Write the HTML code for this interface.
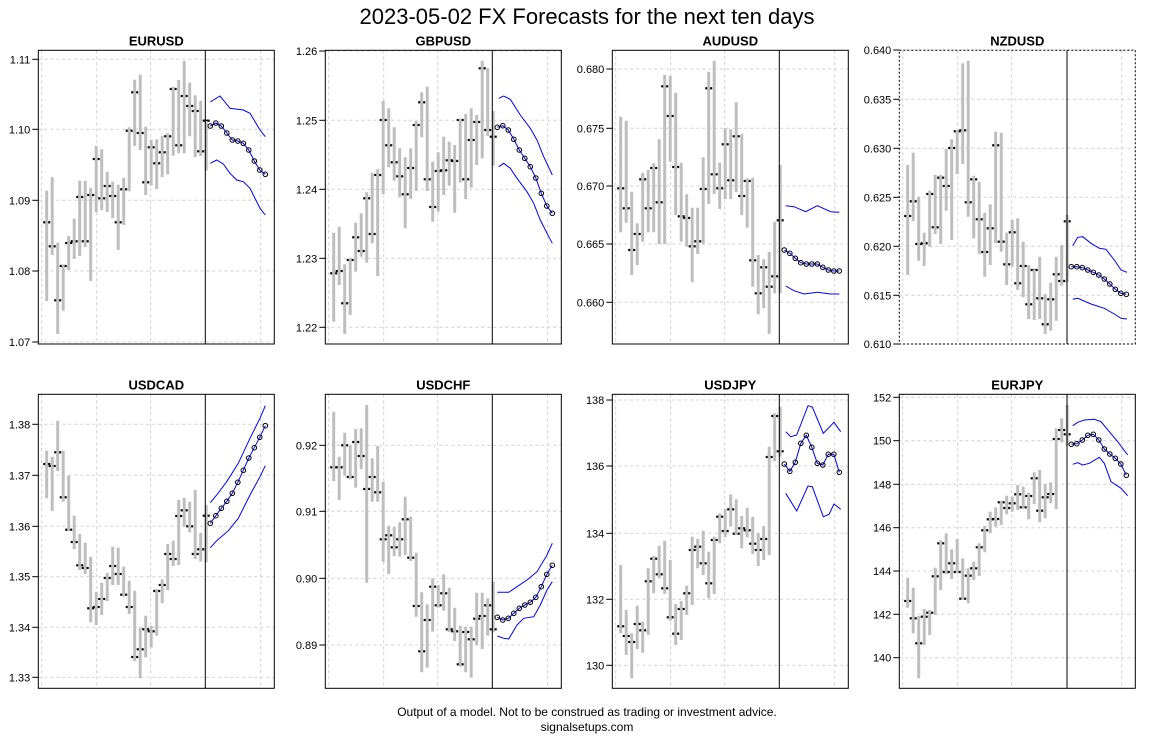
<!DOCTYPE html>
<html><head><meta charset="utf-8"><style>
body{margin:0;background:#fff;}
svg{display:block;font-family:"Liberation Sans",Arial,sans-serif;}
</style></head><body>
<svg id="s" width="1174" height="739" xmlns="http://www.w3.org/2000/svg">
<rect width="1174" height="739" fill="#fff"/>
<text x="587" y="24" font-size="22" text-anchor="middle">2023-05-02 FX Forecasts for the next ten days</text>
<text x="587" y="716" font-size="12" text-anchor="middle">Output of a model. Not to be construed as trading or investment advice.</text>
<text x="587" y="731" font-size="12" text-anchor="middle">signalsetups.com</text>
</svg>
<script>
var P=[
{n:"EURUSD",ox:30,oy:40,row:1,div:526,dot:0,
ticks:[["1.11",58],["1.10",268],["1.09",481],["1.08",693],["1.07",906]],
b:[[452,783,547],[412,645,619],[608,882,781],[673,812,678],[588,690,609],[536,657,604],[422,648,471],[422,621,604],[443,723,465],[318,517,357],[328,510,475],[395,516,438],[425,535,468],[434,630,547],[413,555,448],[262,454,272],[119,318,157],[104,330,279],[260,465,427],[299,437,322],[298,447,370],[287,411,337],[280,403,289],[140,347,147],[120,340,316],[63,340,168],[128,289,198],[166,351,213],[182,348,334],[243,392,242]],
f:[258,249,258,279,300,303,310,330,363,390,403],
u:[[541,186],[570,168],[600,205],[640,210],[660,220],[690,270],[706,290]],
l:[[541,370],[560,360],[580,372],[600,400],[620,420],[640,425],[660,445],[690,505],[706,525]]},
{n:"GBPUSD",ox:317,oy:40,row:1,div:526,dot:0,
ticks:[["1.26",33],["1.25",241],["1.24",448],["1.23",655],["1.22",862]],
b:[[578,845,700],[560,735,693],[673,882,790],[655,825,660],[548,695,592],[520,650,633],[457,668,475],[398,610,582],[388,708,405],[183,462,240],[205,382,316],[262,422,367],[325,472,409],[352,565,463],[325,477,384],[243,453,255],[157,292,187],[140,453,418],[365,545,501],[337,515,393],[290,465,391],[305,437,361],[315,518,363],[237,428,240],[222,477,418],[205,443,300],[225,375,246],[62,355,85],[85,287,270],[213,377,290]],
f:[262,257,270,298,330,355,380,414,460,498,520],
u:[[545,175],[560,168],[580,178],[610,225],[640,265],[660,300],[680,350],[706,405]],
l:[[545,380],[560,370],[580,385],[600,415],[630,455],[650,490],[670,540],[690,580],[706,610]]},
{n:"AUDUSD",ox:604,oy:40,row:1,div:526,dot:0,
ticks:[["0.680",87],["0.675",265],["0.670",438],["0.665",612],["0.660",787]],
b:[[230,577,445],[242,548,505],[455,705,630],[550,675,582],[398,605,418],[390,577,505],[370,577,384],[298,612,487],[105,612,139],[108,365,228],[158,525,381],[368,605,529],[463,620,534],[503,727,619],[503,642,604],[352,612,447],[95,492,145],[62,462,403],[368,507,445],[265,477,313],[268,477,421],[187,457,289],[283,525,468],[415,563,423],[413,740,661],[645,823,760],[658,805,682],[635,882,740],[545,760,709],[375,760,541]],
f:[630,640,655,668,672,672,672,682,690,693,693],
u:[[545,497],[570,500],[605,515],[640,497],[680,515],[706,517]],
l:[[545,738],[570,752],[600,762],[640,757],[680,762],[706,762]]},
{n:"NZDUSD",ox:891,oy:40,row:1,div:528,dot:1,
ticks:[["0.640",30],["0.635",178],["0.630",325],["0.625",472],["0.620",619],["0.615",766],["0.610",912]],
b:[[375,705,528],[338,543,484],[470,662,612],[578,678,610],[452,620,462],[405,582,562],[405,612,413],[327,512,438],[298,600,324],[270,402,274],[70,372,271],[62,530,487],[407,595,418],[425,642,538],[518,710,636],[493,675,565],[275,610,316],[278,635,605],[578,735,673],[540,680,577],[535,750,730],[605,772,678],[675,837,793],[688,840,690],[650,837,775],[762,882,853],[728,872,778],[650,842,703],[615,737,723],[525,727,544]],
f:[680,680,683,690,697,705,717,732,748,760,763],
u:[[545,617],[560,592],[575,590],[600,610],[625,625],[645,628],[670,660],[690,690],[708,697]],
l:[[545,778],[560,775],[600,792],[640,805],[670,822],[690,835],[708,837]]},
{n:"USDCAD",ox:30,oy:385,row:2,div:526,dot:0,
ticks:[["1.38",118],["1.37",271],["1.36",424],["1.35",575],["1.34",727],["1.33",877]],
b:[[197,340,237],[215,378,243],[107,258,202],[197,350,337],[272,437,434],[392,492,471],[447,555,541],[473,567,549],[515,712,670],[620,720,666],[593,690,642],[563,648,579],[485,600,543],[488,600,567],[545,635,629],[587,687,666],[617,828,816],[728,880,793],[692,817,733],[723,787,739],[612,752,618],[583,655,600],[477,615,507],[467,543,522],[345,540,393],[338,425,376],[350,442,424],[315,522,507],[443,530,493],[360,532,392]],
f:[415,392,370,349,325,292,256,219,188,157,122],
u:[[541,353],[560,330],[590,290],[625,235],[660,160],[690,100],[706,62]],
l:[[541,488],[560,467],[595,437],[625,400],[660,330],[690,275],[706,242]]},
{n:"USDCHF",ox:317,oy:385,row:2,div:526,dot:0,
ticks:[["0.92",181],["0.91",379],["0.90",580],["0.89",780]],
b:[[80,288,247],[215,345,247],[143,272,181],[182,283,276],[132,308,171],[130,252,213],[60,593,312],[220,350,276],[183,350,322],[290,530,463],[422,567,451],[425,513,487],[412,515,463],[335,510,403],[395,528,518],[503,695,663],[622,862,799],[658,848,705],[580,740,605],[600,668,661],[568,677,625],[608,741,733],[668,768,739],[722,845,838],[725,862,741],[725,878,763],[623,780,701],[623,792,693],[640,752,661],[590,742,733]],
f:[697,705,700,685,670,660,652,637,605,568,541],
u:[[541,622],[575,622],[600,605],[630,585],[660,560],[690,510],[706,475]],
l:[[541,753],[560,760],[575,762],[600,720],[620,700],[650,695],[670,660],[690,615],[706,590]]},
{n:"USDJPY",ox:604,oy:385,row:2,div:526,dot:0,
ticks:[["138",45],["136",243],["134",445],["132",643],["130",841]],
b:[[540,745,724],[675,810,753],[745,880,771],[662,792,717],[710,803,736],[550,750,589],[513,625,521],[482,580,568],[467,627,610],[525,707,697],[657,780,746],[648,765,672],[602,690,625],[455,660,495],[462,550,485],[437,570,535],[500,640,595],[455,627,465],[385,475,395],[372,457,438],[328,425,373],[343,450,446],[393,490,430],[368,457,436],[395,507,476],[445,543,495],[423,525,462],[185,510,216],[85,228,93],[65,215,199]],
f:[237,259,232,175,151,187,235,240,208,208,262],
u:[[545,140],[560,155],[578,150],[612,62],[625,66],[658,145],[690,112],[710,140]],
l:[[545,325],[578,378],[612,303],[625,305],[658,395],[675,388],[690,357],[710,373]]},
{n:"EURJPY",ox:891,oy:385,row:2,div:528,dot:0,
ticks:[["152",37],["150",167],["148",298],["146",428],["144",558],["142",688],["140",818]],
b:[[578,668,648],[608,745,700],[693,880,775],[672,780,695],[675,750,683],[548,690,574],[466,615,475],[445,568,561],[493,582,535],[462,565,561],[520,645,641],[550,655,572],[530,585,550],[475,573,487],[423,502,436],[380,445,403],[367,425,402],[347,420,352],[332,388,369],[335,380,355],[300,375,328],[305,372,367],[323,403,333],[262,357,280],[255,412,377],[297,400,337],[292,355,327],[130,372,162],[100,172,135],[60,182,148]],
f:[178,176,165,151,148,165,192,207,220,237,271],
u:[[545,122],[560,112],[580,105],[610,103],[630,110],[655,140],[680,170],[710,210]],
l:[[545,238],[560,233],[575,240],[595,235],[625,217],[640,235],[660,290],[690,310],[710,332]]}
];
var h='';
function r(v){return Math.round(v*10)/10;}
P.forEach(function(p){
 var X=function(z){return r(p.ox+z/3);},Y=function(z){return r(p.oy+z/3);};
 var top=p.row==1?31:28,bot=p.row==1?912:910,L=X(25),R=X(733),T=Y(top),B=Y(bot);
 h+='<text x="'+r((L+R)/2)+'" y="'+r(T-5)+'" font-size="13" font-weight="bold" text-anchor="middle">'+p.n+'</text>';
 [35,200,362,692].forEach(function(z){h+='<line x1="'+X(z)+'" y1="'+T+'" x2="'+X(z)+'" y2="'+B+'" stroke="#d0d0d0" stroke-dasharray="3,3"/>';});
 p.ticks.forEach(function(t){var y=Y(t[1]);
  h+='<line x1="'+L+'" y1="'+y+'" x2="'+R+'" y2="'+y+'" stroke="#d0d0d0" stroke-dasharray="3,3"/>';
  h+='<line x1="'+(L-6)+'" y1="'+y+'" x2="'+L+'" y2="'+y+'" stroke="#000"/>';
  h+='<text x="'+(L-8)+'" y="'+r(y+4)+'" font-size="11" text-anchor="end">'+t[0]+'</text>';});
 p.b.forEach(function(b,i){var x=X(50+16.5*i),c=Y(b[2]);
  h+='<line x1="'+r(x-3.5)+'" y1="'+c+'" x2="'+r(x+3.5)+'" y2="'+c+'" stroke="#000" stroke-width="2.2"/>';
  h+='<line x1="'+x+'" y1="'+Y(b[0])+'" x2="'+x+'" y2="'+Y(b[1])+'" stroke="#bebebe" stroke-width="3"/>';});
 function pl(a,w){return '<polyline fill="none" stroke="#0000ff" stroke-width="'+w+'" points="'+a.map(function(q){return X(q[0])+','+Y(q[1]);}).join(' ')+'"/>';}
 h+=pl(p.u,1)+pl(p.l,1);
 var fp=p.f.map(function(v,j){return [541+16.5*j,v];});
 h+=pl(fp,1);
 fp.forEach(function(q){h+='<circle cx="'+X(q[0])+'" cy="'+Y(q[1])+'" r="2.3" fill="none" stroke="#000" stroke-width="1"/>';});
 h+='<line x1="'+X(p.div)+'" y1="'+T+'" x2="'+X(p.div)+'" y2="'+B+'" stroke="#000"/>';
 h+='<rect x="'+L+'" y="'+T+'" width="'+r(R-L)+'" height="'+r(B-T)+'" fill="none" stroke="#000"'+(p.dot?' stroke-dasharray="2,2"':'')+'/>';
});
document.getElementById('s').insertAdjacentHTML('beforeend',h);
</script>
</body></html>
